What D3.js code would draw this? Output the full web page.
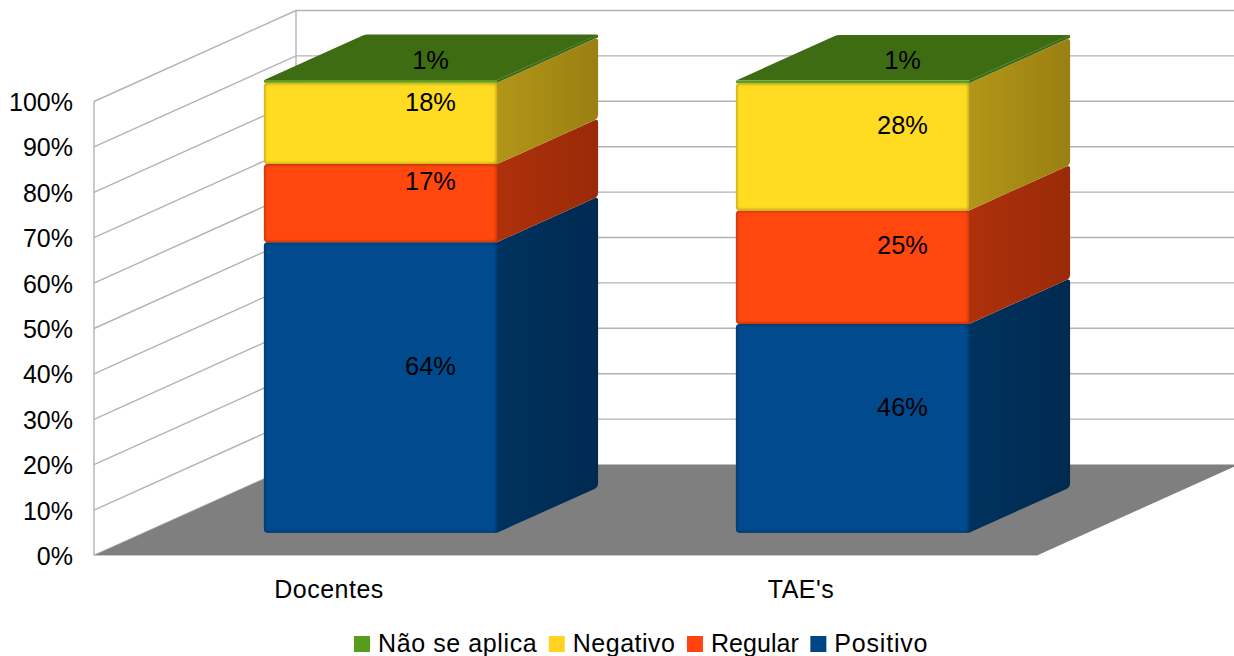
<!DOCTYPE html>
<html>
<head>
<meta charset="utf-8">
<script src="https://cdn.jsdelivr.net/npm/d3@7"></script>
<style>
html,body{margin:0;padding:0;background:#fff;overflow:hidden}
svg{display:block}
text{font-family:"Liberation Sans",Arial,sans-serif;fill:#000}
</style>
</head>
<body>
<svg id="chart" width="1234" height="656"></svg>
<script>
const categories = ["Docentes", "TAE's"];
const seriesNames = ["Positivo", "Regular", "Negativo", "Não se aplica"];
const positivo = [64, 46];
const regular = [17.2, 25];
const negativo = [17.9, 28];
const naoSeAplica = [0.6, 0.6];
const labelValues = [[64, 46], [17, 25], [18, 28], [1, 1]];
const seriesColors = ["#004586", "#ff420e", "#ffd320", "#579d1c"];
const frontColors = ["#004a8d", "#ff470e", "#ffdc22", "#5f9f1c"];
const sideColors = [["#00325f", "#002a50"], ["#ae310b", "#9a2a08"], ["#b29618", "#9a7f12"], ["#3e6c12", "#3e6c12"]];
const yTicks = [0, 10, 20, 30, 40, 50, 60, 70, 80, 90, 100];
const legendOrder = ["Não se aplica", "Negativo", "Regular", "Positivo"];
const legendSpacing = [0.6, 0.5, 0.05, 0.8];

const W = 1234, H = 656, fontSize = 25;
const FX0 = 94, FX1 = 1038, DX = 202, DY = -91;
const grid = "#b3b3b3";

const svg = d3.select("#chart");
const defs = svg.append("defs");
defs.append("filter").attr("id", "soft").attr("x", "-5%").attr("y", "-5%").attr("width", "110%").attr("height", "110%")
  .append("feGaussianBlur").attr("stdDeviation", 0.9);

const x = d3.scaleBand().domain(categories).range([FX0, FX1]).paddingInner(0.506).paddingOuter(0.253);
const y = d3.scaleLinear().domain([0, 100]).range([555.5, 101.5]);
const project = (px, v, d) => [px + DX * d, y(v) + DY * d];

// radii: one corner radius for each point of the polygon
function roundedPath(pts, radii) {
  const n = pts.length;
  let s = "";
  pts.forEach((p, i) => {
    const r = radii[i];
    const a = pts[(i + n - 1) % n], b = pts[(i + 1) % n];
    const la = Math.hypot(a[0] - p[0], a[1] - p[1]), lb = Math.hypot(b[0] - p[0], b[1] - p[1]);
    const ra = Math.min(r, la / 2), rb = Math.min(r, lb / 2);
    const p1 = [p[0] + (a[0] - p[0]) * ra / la, p[1] + (a[1] - p[1]) * ra / la];
    const p2 = [p[0] + (b[0] - p[0]) * rb / lb, p[1] + (b[1] - p[1]) * rb / lb];
    s += (i ? "L" : "M") + p1[0] + "," + p1[1] + "Q" + p[0] + "," + p[1] + " " + p2[0] + "," + p2[1];
  });
  return s + "Z";
}

// Walls
const walls = svg.append("g").attr("fill", "none").attr("stroke", grid).attr("stroke-width", 1.4);
yTicks.forEach(t => {
  const a = project(FX0, t, 0), b = project(FX0, t, 1), c = [W + 2, b[1]];
  if (t > 0) walls.append("path").attr("d", d3.line()([a, b, c]));
  else walls.append("path").attr("d", d3.line()([a, b]));
});
walls.append("path").attr("d", d3.line()([project(FX0, 0, 0), project(FX0, 100, 0)]));
walls.append("path").attr("d", d3.line()([project(FX0, 0, 1), project(FX0, 100, 1)]));

// Floor
svg.append("path")
  .attr("d", d3.line()([project(FX0, 0, 0), project(FX1 - 1, 0, 0), project(FX1 - 1, 0, 1), project(FX0, 0, 1)]) + "Z")
  .attr("fill", "#7f7f7f");
svg.append("path")
  .attr("d", d3.line()([project(FX0, 0, 0), project(FX1 - 1, 0, 0)]))
  .attr("stroke", "#c8c8c8").attr("stroke-width", 1).attr("fill", "none");

// Stacks
const rows = categories.map((c, i) => ({
  cat: c, "Positivo": positivo[i], "Regular": regular[i], "Negativo": negativo[i], "Não se aplica": naoSeAplica[i]
}));
const stacked = d3.stack().keys(seriesNames)(rows);

const D0 = 0.25, D1 = 0.75;
const bars = svg.append("g");
const labels = [];

categories.forEach((cat, ci) => {
  const fx0 = x(cat), fx1 = fx0 + x.bandwidth();
  const group = bars.append("g");
  stacked.forEach((layer, si) => {
    const [v0, v1] = layer[ci];
    const col = frontColors[si];
    const tl = project(fx0, v1, D0), tr = project(fx1, v1, D0),
          br = project(fx1, v0, D0), bl = project(fx0, v0, D0),
          trb = project(fx1, v1, D1), brb = project(fx1, v0, D1), tlb = project(fx0, v1, D1);
    const isTop = si === stacked.length - 1;

    // side face with a left to right shade, tucked slightly under the front face
    const gid = "side" + ci + "-" + si;
    const g = defs.append("linearGradient").attr("id", gid).attr("gradientUnits", "userSpaceOnUse")
      .attr("x1", tr[0]).attr("x2", trb[0]).attr("y1", 0).attr("y2", 0);
    g.append("stop").attr("offset", 0).attr("stop-color", sideColors[si][0]);
    g.append("stop").attr("offset", 1).attr("stop-color", sideColors[si][1]);
    group.append("path")
      .attr("d", isTop
        ? d3.line()([tr, trb, brb, br]) + "Z"
        : roundedPath([[tr[0] - 4, tr[1]], tr, trb, brb, br, [br[0] - 4, br[1]]], [0, 0, 4, 4, 0, 0]))
      .attr("fill", `url(#${gid})`);

    if (isTop) {
      group.append("path").attr("d", roundedPath([tl, tr, trb, tlb], [1.5, 1.5, 2, 3])).attr("fill", sideColors[si][0]);
      group.append("path").attr("d", d3.line()([tl, tr, br, bl]) + "Z").attr("fill", col);
    } else {
      const clipId = "clip" + ci + "-" + si;
      const d = roundedPath([tl, tr, br, bl], [4, 4, 4, 4]);
      defs.append("clipPath").attr("id", clipId).append("path").attr("d", d);
      group.append("path").attr("d", d).attr("fill", col);
      group.append("g").attr("clip-path", `url(#${clipId})`)
        .append("path").attr("d", d).attr("fill", "none")
        .attr("stroke", d3.color(col).darker(0.8)).attr("stroke-width", 2.6)
        .attr("filter", "url(#soft)");
    }
    labels.push({
      text: labelValues[si][ci] + "%",
      pos: project((fx0 + fx1) / 2, (v0 + v1) / 2, (D0 + D1) / 2)
    });
  });
});

// Value labels
svg.append("g").selectAll("text").data(labels).join("text")
  .attr("x", d => d.pos[0] - 0.5)
  .attr("y", d => d.pos[1] + 1)
  .attr("text-anchor", "middle")
  .attr("dominant-baseline", "central")
  .attr("font-size", fontSize + 0.4)
  .text(d => d.text);

// Axes
const yAxis = d3.axisLeft(y).tickValues(yTicks).tickSize(0).tickPadding(21).tickFormat(d => d + "%");
const gy = svg.append("g").attr("transform", `translate(${FX0},1)`).call(yAxis);
gy.select(".domain").remove();
gy.selectAll("text").attr("font-size", fontSize).attr("font-family", '"Liberation Sans",Arial,sans-serif').attr("fill", "#000");

const xAxis = d3.axisBottom(x).tickSize(0).tickPadding(25);
const gx = svg.append("g").attr("transform", "translate(-1,555.5)").call(xAxis);
gx.select(".domain").remove();
gx.selectAll("text").attr("font-size", fontSize).attr("font-family", '"Liberation Sans",Arial,sans-serif')
  .attr("fill", "#000").attr("letter-spacing", 0.5);

// Legend
const legend = svg.append("g");
let lx = 354;
legendOrder.forEach((name, i) => {
  const col = seriesColors[seriesNames.indexOf(name)];
  legend.append("rect").attr("x", lx).attr("y", 636).attr("width", 16).attr("height", 16).attr("fill", col);
  const t = legend.append("text").attr("x", lx + 24).attr("y", 652).attr("font-size", fontSize)
    .attr("letter-spacing", legendSpacing[i]).text(name);
  lx += 24 + t.node().getComputedTextLength() + 11.5;
});
</script>
</body>
</html>
